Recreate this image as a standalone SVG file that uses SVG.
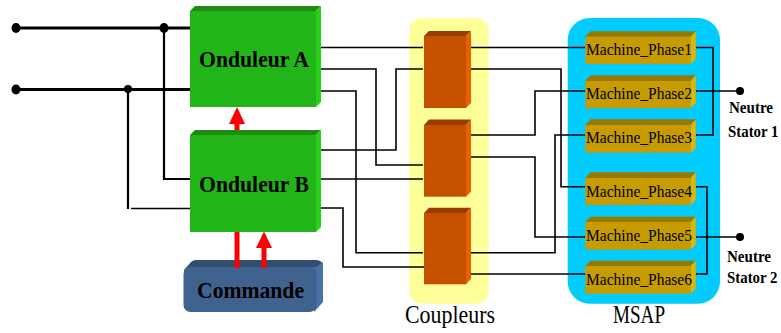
<svg xmlns="http://www.w3.org/2000/svg" width="781" height="333" viewBox="0 0 781 333">
<style>
text{font-family:"Liberation Serif","DejaVu Serif",serif;fill:#000}
.b{font-weight:bold}
.w{fill:none;stroke:#000;stroke-width:1.600}
.w2{fill:none;stroke:#000;stroke-width:2.200}
.w3{fill:none;stroke:#000;stroke-width:3}
.d{fill:#000}
.gf{fill:#22b518}.gt{fill:#1f8a10}.gr{fill:#28d018}
.of{fill:#c55000}.ot{fill:#983c00}.or{fill:#e86000}
.mf{fill:#c79c00}.mt{fill:#987800}.mr{fill:#e4b400}
.mn{font-size:17.500px}
.red{fill:#ff0000}
</style>
<rect id="coupleurs-bg" x="409.300" y="18" width="79.400" height="285.700" rx="13" fill="#ffff99"/>
<rect id="msap-bg" x="567.700" y="18" width="152.300" height="285.700" rx="22" fill="#00ccff"/>
<g id="connectors">
<path class="w3" d="M16 28H190"/>
<path class="w3" d="M16 89.500H190"/>
<path class="w2" d="M164 28V179H190"/>
<path class="w2" d="M128 89V209"/>
<path class="w" d="M131 208.500H190"/>
<path class="w" d="M316 47.500H423"/>
<path class="w" d="M316 69H376V165H423"/>
<path class="w" d="M316 91H356V252.700H423"/>
<path class="w" d="M316 150H396V69H423"/>
<path class="w" d="M316 179H423"/>
<path class="w" d="M316 208H343V267H424"/>
<path class="w" d="M471 47.500H585"/>
<path class="w" d="M468 69H561V186.700H585"/>
<path class="w" d="M468 135H535V91H585"/>
<path class="w" d="M468 157H535V237H585"/>
<path class="w" d="M468 252.700H555V135H585"/>
<path class="w" d="M471 274H585"/>
<path class="w" d="M696 47.500H713V135H696"/>
<path class="w" d="M696 91H740"/>
<path class="w" d="M696 186.700H707V274H696"/>
<path class="w" d="M696 237H740"/>
<ellipse class="d" cx="16" cy="28" rx="4.500" ry="5"/>
<ellipse class="d" cx="16" cy="89.500" rx="4.500" ry="5"/>
<ellipse class="d" cx="164" cy="28" rx="4.500" ry="5"/>
<circle class="d" cx="128" cy="89" r="4"/>
<circle class="d" cx="740" cy="91" r="4"/>
<circle class="d" cx="740" cy="237" r="4"/>
</g>
<g id="commande">
<path fill="#324f73" d="M184 270L191 262Q193 260 196 260H316Q323 260 323 267V272H184Z"/>
<path fill="#4872a6" d="M312 267H316L323 262V302L314 312Z"/>
<rect x="183.500" y="267" width="133" height="45" rx="7" fill="#40628f"/>
<text class="b" x="197" y="297.700" font-size="24" textLength="107" lengthAdjust="spacingAndGlyphs">Commande</text>
</g>
<g id="arrows">
<path class="red" d="M234.500 131V124H229L237 107L245 124H239.500V131Z"/>
<rect class="red" x="234.500" y="231" width="5" height="37"/>
<path class="red" d="M261.500 268V248H256L264 231.500L272 248H266.500V268Z"/>
</g>
<g id="onduleur-a">
<polygon class="gt" points="190,11 195,6 321,6 316,11"/>
<polygon class="gr" points="316,11 321,6 321,102 316,107"/>
<rect class="gf" x="190" y="11" width="126" height="96"/>
<text class="b" x="199" y="66.700" font-size="24" textLength="110" lengthAdjust="spacingAndGlyphs">Onduleur A</text>
</g>
<g id="onduleur-b">
<polygon class="gt" points="190,135 195,130 321,130 316,135"/>
<polygon class="gr" points="316,135 321,130 321,227 316,232"/>
<rect class="gf" x="190" y="135" width="126" height="97"/>
<text class="b" x="199" y="191.700" font-size="24" textLength="110" lengthAdjust="spacingAndGlyphs">Onduleur B</text>
</g>
<g id="coupleur-1">
<polygon class="ot" points="424,36 429,31 471,31 466,36"/>
<polygon class="or" points="466,36 471,31 471,103 466,108"/>
<rect class="of" x="424" y="36" width="42" height="72"/>
</g>
<g id="coupleur-2">
<polygon class="ot" points="424,125 429,119.500 471,119.500 466,125"/>
<polygon class="or" points="466,125 471,119.500 471,191.500 466,196.700"/>
<rect class="of" x="424" y="125" width="42" height="71.700"/>
</g>
<g id="coupleur-3">
<polygon class="ot" points="424,213 429,207.700 471,207.700 466,213"/>
<polygon class="or" points="466,213 471,207.700 471,279 466,284.300"/>
<rect class="of" x="424" y="213" width="42" height="71.300"/>
</g>
<g id="machine-1">
<polygon class="mt" points="585.300,36.700 590.500,31.300 695.700,31.300 690.700,36.700"/>
<polygon class="mr" points="690.700,36.700 695.700,31.300 695.700,59 690.700,64"/>
<rect class="mf" x="585.300" y="36.700" width="105.400" height="27.300"/>
<text class="mn" x="586" y="55" textLength="106" lengthAdjust="spacingAndGlyphs">Machine_Phase1</text>
</g>
<g id="machine-2">
<polygon class="mt" points="585.300,81 590.500,75.300 695.700,75.300 690.700,81"/>
<polygon class="mr" points="690.700,81 695.700,75.300 695.700,103.300 690.700,108.300"/>
<rect class="mf" x="585.300" y="81" width="105.400" height="27.300"/>
<text class="mn" x="586" y="99" textLength="106" lengthAdjust="spacingAndGlyphs">Machine_Phase2</text>
</g>
<g id="machine-3">
<polygon class="mt" points="585.300,125 590.500,119.300 695.700,119.300 690.700,125"/>
<polygon class="mr" points="690.700,125 695.700,119.300 695.700,147.700 690.700,152.700"/>
<rect class="mf" x="585.300" y="125" width="105.400" height="27.700"/>
<text class="mn" x="586" y="142.700" textLength="106" lengthAdjust="spacingAndGlyphs">Machine_Phase3</text>
</g>
<g id="machine-4">
<polygon class="mt" points="585.300,178 590.500,172.300 695.700,172.300 690.700,178"/>
<polygon class="mr" points="690.700,178 695.700,172.300 695.700,200 690.700,205"/>
<rect class="mf" x="585.300" y="178" width="105.400" height="27"/>
<text class="mn" x="586" y="196.700" textLength="106" lengthAdjust="spacingAndGlyphs">Machine_Phase4</text>
</g>
<g id="machine-5">
<polygon class="mt" points="585.300,222 590.500,216.700 695.700,216.700 690.700,222"/>
<polygon class="mr" points="690.700,222 695.700,216.700 695.700,244.700 690.700,249.700"/>
<rect class="mf" x="585.300" y="222" width="105.400" height="27.700"/>
<text class="mn" x="586" y="240.700" textLength="106" lengthAdjust="spacingAndGlyphs">Machine_Phase5</text>
</g>
<g id="machine-6">
<polygon class="mt" points="585.300,266 590.500,260.700 695.700,260.700 690.700,266"/>
<polygon class="mr" points="690.700,266 695.700,260.700 695.700,288.700 690.700,293.700"/>
<rect class="mf" x="585.300" y="266" width="105.400" height="27.700"/>
<text class="mn" x="586" y="285" textLength="106" lengthAdjust="spacingAndGlyphs">Machine_Phase6</text>
</g>
<g id="labels">
<text x="405" y="323" font-size="25" textLength="90" lengthAdjust="spacingAndGlyphs">Coupleurs</text>
<text x="613" y="323" font-size="25" textLength="52" lengthAdjust="spacingAndGlyphs">MSAP</text>
<text class="b" x="729" y="112.700" font-size="16" textLength="44" lengthAdjust="spacingAndGlyphs">Neutre</text>
<text class="b" x="728" y="136.700" font-size="16" textLength="50.500" lengthAdjust="spacingAndGlyphs">Stator 1</text>
<text class="b" x="727" y="261.700" font-size="16" textLength="44" lengthAdjust="spacingAndGlyphs">Neutre</text>
<text class="b" x="727" y="283" font-size="16" textLength="50.500" lengthAdjust="spacingAndGlyphs">Stator 2</text>
</g>
</svg>
